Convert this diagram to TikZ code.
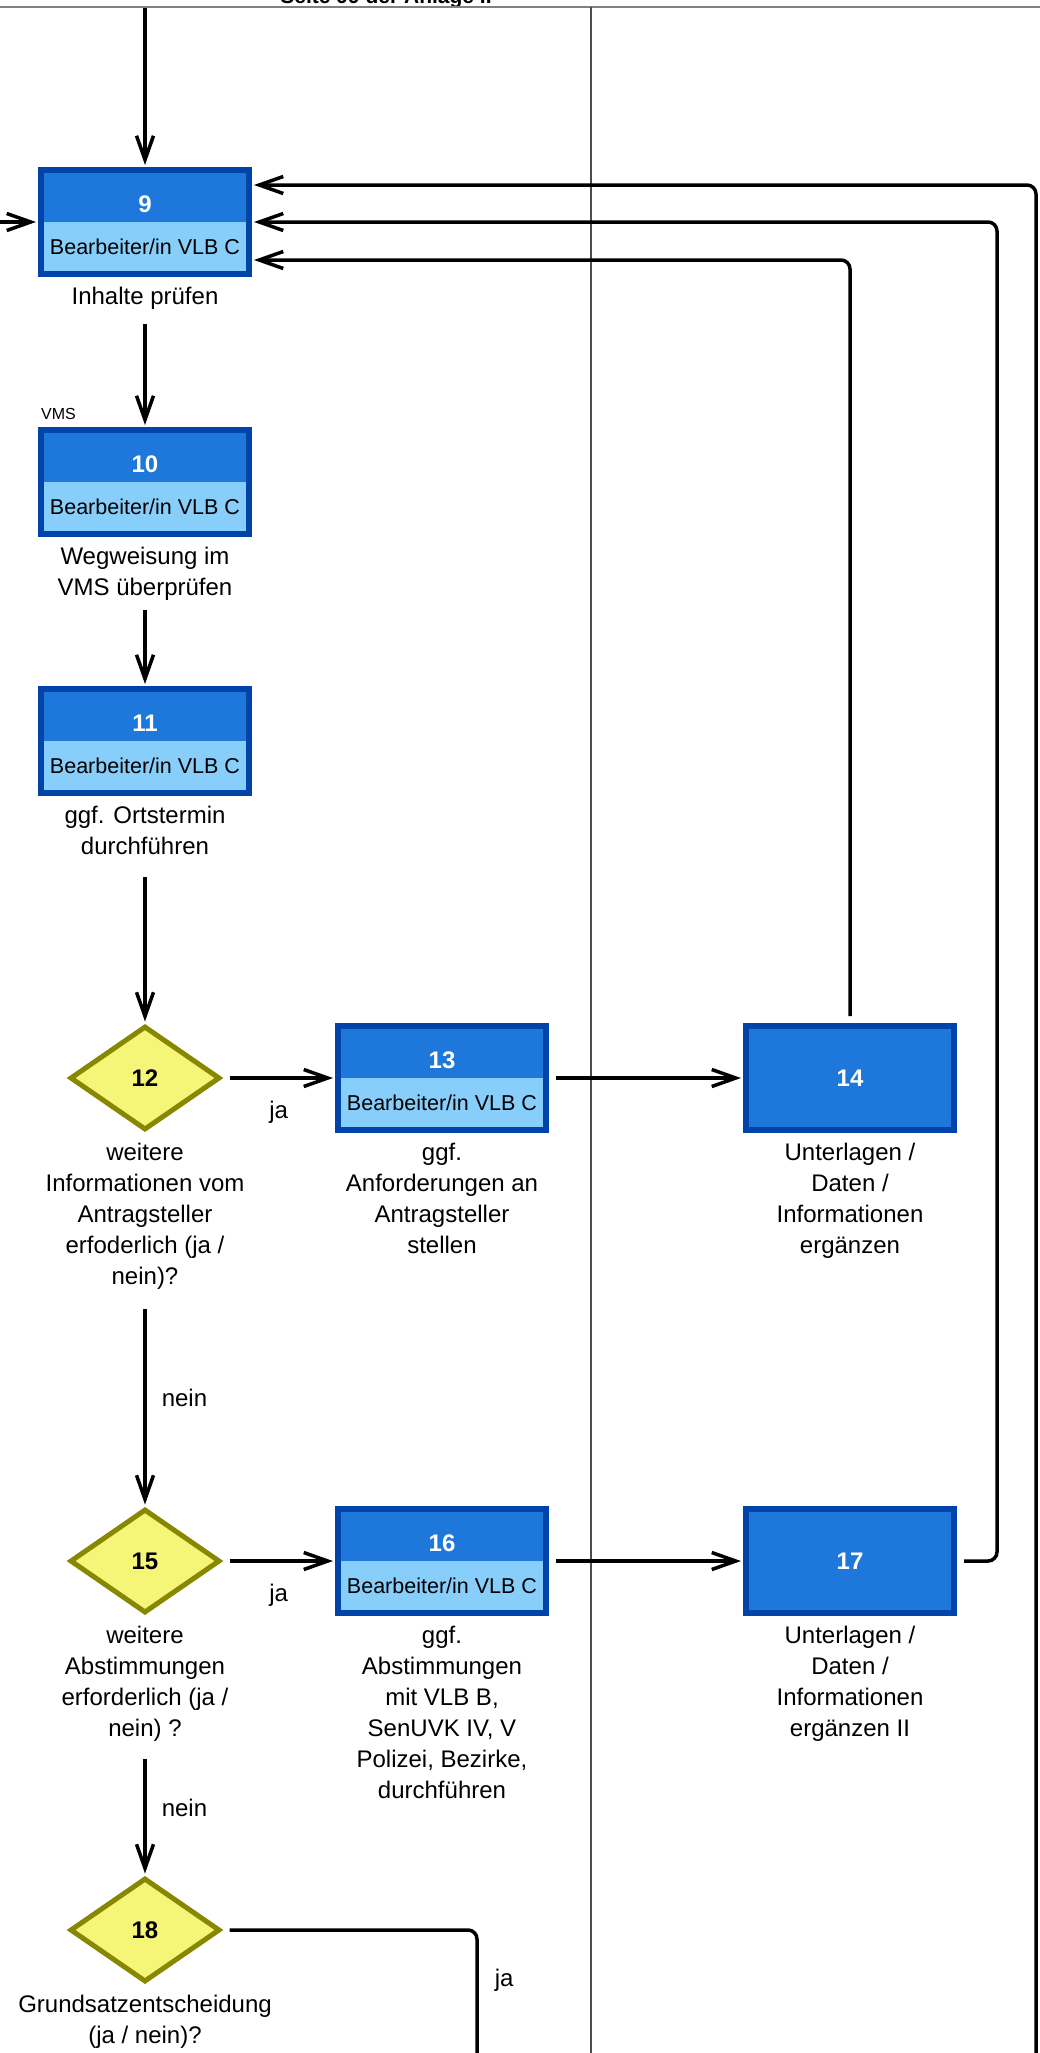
\documentclass[tikz,border=0pt]{standalone}
\usepackage{fontspec}
\setmainfont{Liberation Sans}
\usetikzlibrary{arrows.meta,shapes.geometric,positioning}

\definecolor{taskdark}{HTML}{1E78DC}
\definecolor{taskline}{HTML}{0044AA}
\definecolor{tasklight}{HTML}{87CEFA}
\definecolor{askfill}{HTML}{F5F578}
\definecolor{askline}{HTML}{888800}

\tikzset{
  task/.style={draw=taskline, line width=6pt, fill=taskdark,
    minimum width=208pt, minimum height=104pt, inner sep=0pt,
    path picture={\fill[tasklight] (path picture bounding box.west) rectangle (path picture bounding box.south east);}},
  taskfull/.style={draw=taskline, line width=6pt, fill=taskdark,
    minimum width=208pt, minimum height=104pt, inner sep=0pt,
    font=\fontsize{24}{28}\selectfont\bfseries, text=white},
  ask/.style={diamond, draw=askline, line width=5pt, fill=askfill,
    minimum width=150pt, minimum height=104pt, inner sep=0pt,
    font=\fontsize{24}{28}\selectfont\bfseries},
  num/.style={font=\fontsize{24}{28}\selectfont\bfseries, text=white, inner sep=0pt},
  who/.style={font=\fontsize{21.5}{25}\selectfont, inner sep=0pt},
  txt/.style={font=\fontsize{24}{31}\selectfont, align=center, inner sep=0pt, anchor=north},
  lbl/.style={font=\fontsize{24}{31}\selectfont, inner sep=0pt},
  flow/.style={line width=3.5pt, -{Straight Barb[length=24pt,width=17pt]}, shorten <=7pt, shorten >=2pt},
  back/.style={flow, rounded corners=9pt},
}

\begin{document}
\begin{tikzpicture}[x=1pt,y=-1pt]
\useasboundingbox (0,0) rectangle (1040,2053);

% page head and lane
\node[font=\fontsize{21}{24}\selectfont\bfseries, anchor=base, inner sep=0pt] (pagehead) at (386,4) {Seite 99 der Anlage II};
\draw[gray, line width=2pt] (-5,7) -- (1045,7);
\draw[black!70, line width=1.2pt] (591,7) -- (591,2060);

% left column
\node[task] (b9) at (145,222) {};
\node[num] (b9no) at ([yshift=18pt]b9.center) {9};
\node[who] (b9who) at ([yshift=-25pt]b9.center) {Bearbeiter/in VLB C};
\node[txt] (l9) at ([yshift=-10pt]b9.south) {Inhalte prüfen};

\node[task] (b10) at (145,482) {};
\node[num] (b10no) at ([yshift=18pt]b10.center) {10};
\node[who] (b10who) at ([yshift=-25pt]b10.center) {Bearbeiter/in VLB C};
\node[txt] (l10) at ([yshift=-10pt]b10.south) {Wegweisung im\\VMS überprüfen};
\node[font=\fontsize{16}{18}\selectfont, inner sep=0pt, anchor=south west] (vms) at ([xshift=3pt,yshift=7pt]b10.north west) {VMS};

\node[task] (b11) at (145,741) {};
\node[num] (b11no) at ([yshift=18pt]b11.center) {11};
\node[who] (b11who) at ([yshift=-25pt]b11.center) {Bearbeiter/in VLB C};
\node[txt] (l11) at ([yshift=-10pt]b11.south) {ggf. Ortstermin\\durchführen};

\node[ask] (d12) at (145,1078) {12};
\node[txt] (l12) at ([yshift=-10pt]d12.south) {weitere\\Informationen vom\\Antragsteller\\erfoderlich (ja /\\nein)?};

\node[ask] (d15) at (145,1561) {15};
\node[txt] (l15) at ([yshift=-10pt]d15.south) {weitere\\Abstimmungen\\erforderlich (ja /\\nein) ?};

\node[ask] (d18) at (145,1930) {18};
\node[txt] (l18) at ([yshift=-10pt]d18.south) {Grundsatzentscheidung\\(ja / nein)?};

% middle column
\node[task] (b13) at (442,1078) {};
\node[num] (b13no) at ([yshift=18pt]b13.center) {13};
\node[who] (b13who) at ([yshift=-25pt]b13.center) {Bearbeiter/in VLB C};
\node[txt] (l13) at ([yshift=-10pt]b13.south) {ggf.\\Anforderungen an\\Antragsteller\\stellen};

\node[task] (b16) at (442,1561) {};
\node[num] (b16no) at ([yshift=18pt]b16.center) {16};
\node[who] (b16who) at ([yshift=-25pt]b16.center) {Bearbeiter/in VLB C};
\node[txt] (l16) at ([yshift=-10pt]b16.south) {ggf.\\Abstimmungen\\mit VLB B,\\SenUVK IV, V\\Polizei, Bezirke,\\durchführen};

% right lane
\node[taskfull] (b14) at (850,1078) {14};
\node[txt] (l14) at ([yshift=-10pt]b14.south) {Unterlagen /\\Daten /\\Informationen\\ergänzen};

\node[taskfull] (b17) at (850,1561) {17};
\node[txt] (l17) at ([yshift=-10pt]b17.south) {Unterlagen /\\Daten /\\Informationen\\ergänzen II};

% connectors
\coordinate (inTop) at (145,1);
\coordinate (inLeft) at (-8,222);
\coordinate (fromNext) at (1036,2070);
\coordinate (toNext) at (477,2070);

\draw[flow] (inTop) -- (b9);
\draw[flow] (inLeft) -- (b9);
\draw[flow, shorten <=14pt] (l9) -- (b10);
\draw[flow, shorten <=9pt] (l10) -- (b11);
\draw[flow, shorten <=22pt] (l11) -- (d12);
\draw[flow] (d12) -- node[lbl, below=21pt] (ja12) {ja} (b13);
\draw[flow] (b13) -- (b14);
\draw[flow, shorten <=20pt] (l12) -- node[lbl, right=15pt] (nein12) {nein} (d15);
\draw[flow] (d15) -- node[lbl, below=21pt] (ja15) {ja} (b16);
\draw[flow] (b16) -- (b17);
\draw[flow, shorten <=18pt] (l15) -- node[lbl, right=15pt] (nein15) {nein} (d18);
\draw[back, -] (d18.east) -| node[lbl, pos=0.68, right=16pt] (ja18) {ja} (toNext);

% loops back to 9
\draw[back] (b14.north) |- ([yshift=-38pt]b9.east);
\draw[back] (b17.east) -| ([xshift=40pt]b17.east |- b9.east) -- (b9.east);
\draw[back] (fromNext) |- ([yshift=37pt]b9.east);
\end{tikzpicture}
\end{document}
